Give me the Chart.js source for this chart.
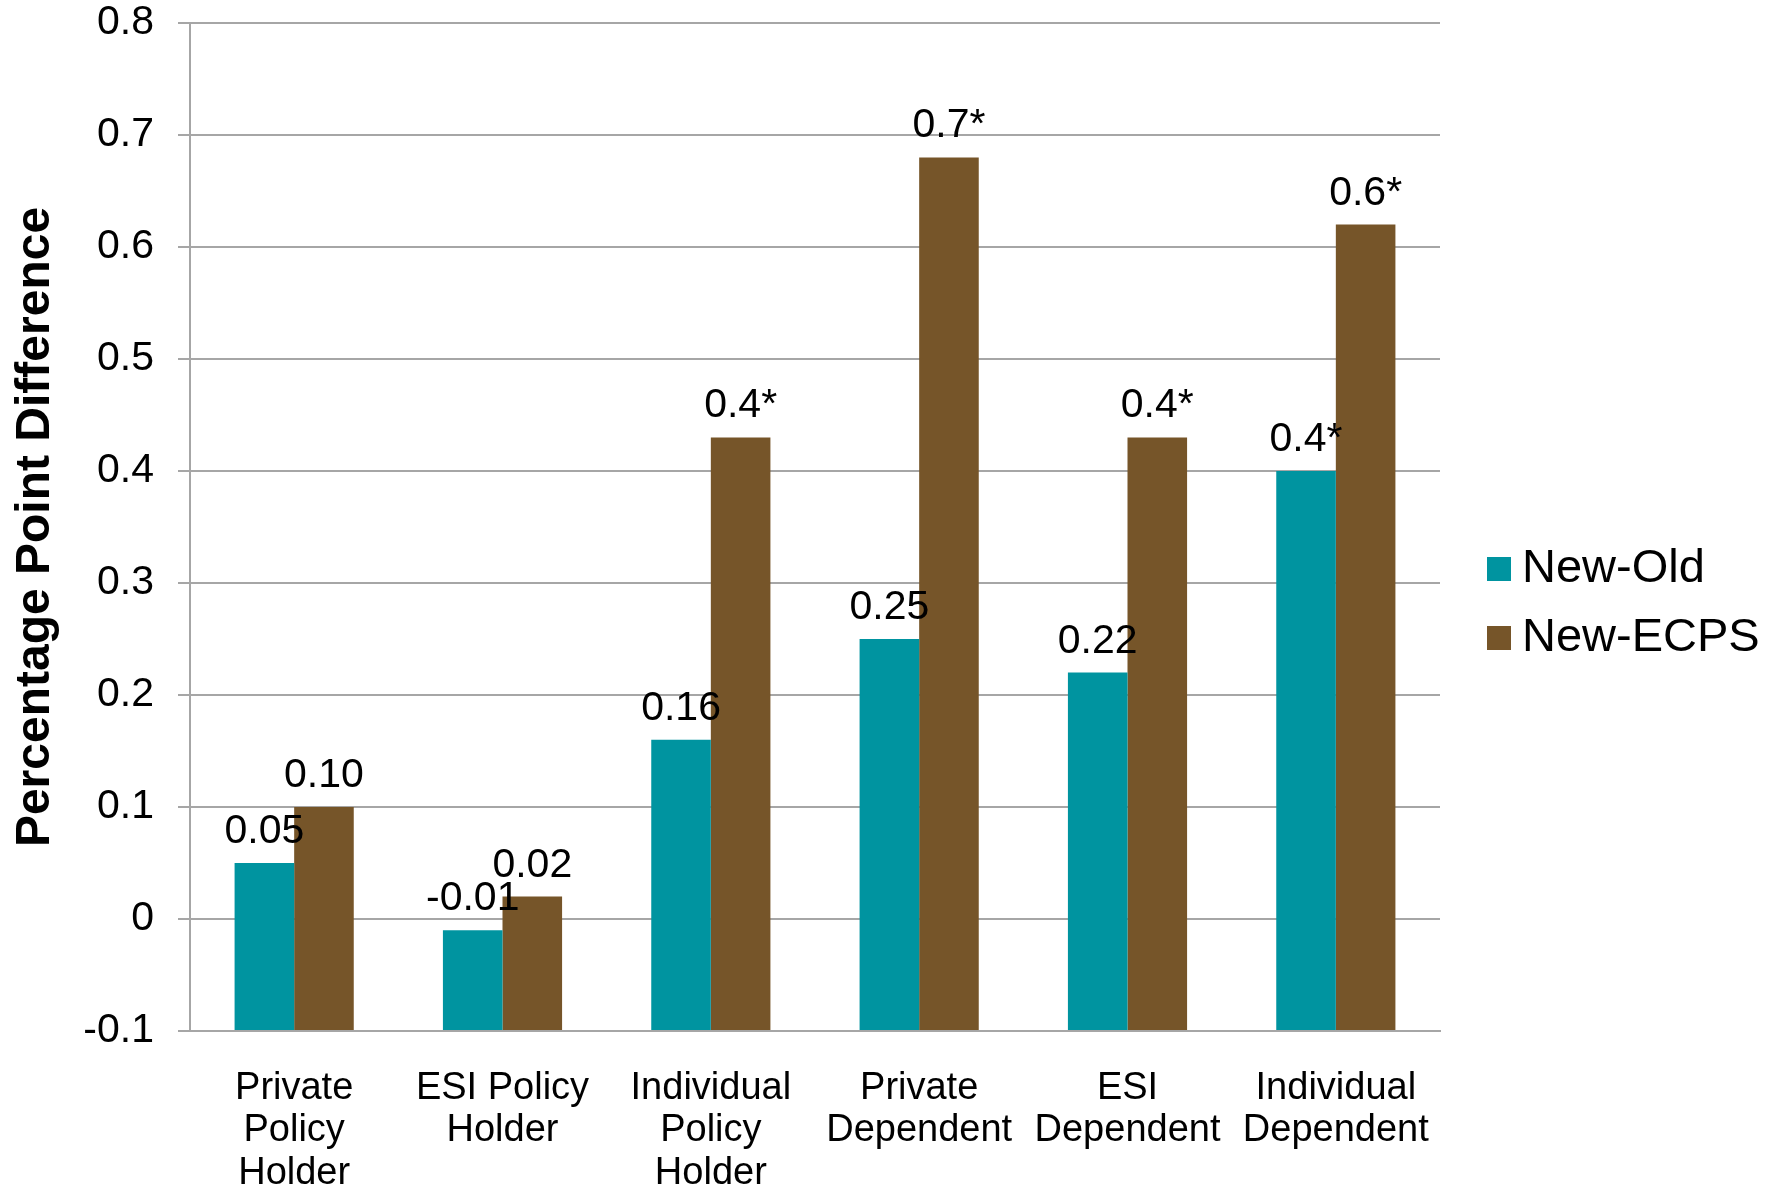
<!DOCTYPE html>
<html>
<head>
<meta charset="utf-8">
<script src="https://cdn.jsdelivr.net/npm/chart.js@4.4.1/dist/chart.umd.min.js"></script>
<style>
  body { margin: 0; background: #fff; }
  #wrap { width: 1783px; height: 1191px; }
</style>
</head>
<body>
<div id="wrap"><canvas id="myChart" width="1783" height="1191"></canvas></div>
<script>
// categories (multi-line labels under the x axis)
var categories = [
    ['Private', 'Policy', 'Holder'],
    ['ESI Policy', 'Holder'],
    ['Individual', 'Policy', 'Holder'],
    ['Private', 'Dependent'],
    ['ESI', 'Dependent'],
    ['Individual', 'Dependent']
];

var newOld = [0.05, -0.01, 0.16, 0.25, 0.22, 0.40];
var newEcps = [0.10, 0.02, 0.43, 0.68, 0.43, 0.62];

// text printed above each bar
var newOldLabels = ['0.05', '-0.01', '0.16', '0.25', '0.22', '0.4*'];
var newEcpsLabels = ['0.10', '0.02', '0.4*', '0.7*', '0.4*', '0.6*'];

var yMin = -0.1;
var yMax = 0.8;
var yStep = 0.1;

var FONT = '"Liberation Sans", Arial, sans-serif';
var gridColor = '#a6a6a6';

// value text over the bars
var barLabels = {
    id: 'barLabels',
    afterDatasetsDraw: function(chart) {
        var ctx = chart.ctx;
        ctx.save();
        ctx.font = '41px ' + FONT;
        ctx.fillStyle = '#000';
        ctx.textAlign = 'center';
        ctx.textBaseline = 'alphabetic';
        chart.data.datasets.forEach(function(ds, i) {
            chart.getDatasetMeta(i).data.forEach(function(bar, j) {
                ctx.fillText(ds.valueLabels[j], bar.x, bar.y - 20);
            });
        });
        ctx.restore();
    }
};

// legend to the right of the plot, square swatch + name
var sideLegend = {
    id: 'sideLegend',
    afterDraw: function(chart) {
        var ctx = chart.ctx;
        var x = chart.chartArea.right + 47;
        var rowH = 69;
        var mid = chart.height / 2 + 8;
        var n = chart.data.datasets.length;
        ctx.save();
        ctx.font = '47px ' + FONT;
        ctx.textAlign = 'left';
        ctx.textBaseline = 'middle';
        chart.data.datasets.forEach(function(ds, i) {
            var cy = mid + (i - (n - 1) / 2) * rowH;
            ctx.fillStyle = ds.backgroundColor;
            ctx.fillRect(x, cy - 12, 24, 24);
            ctx.fillStyle = '#000';
            ctx.fillText(ds.label, x + 35, cy);
        });
        ctx.restore();
    }
};

var ctx = document.getElementById('myChart').getContext('2d');
var chart = new Chart(ctx, {
    type: 'bar',
    data: {
        labels: categories,
        datasets: [{
            label: 'New-Old',
            data: newOld,
            valueLabels: newOldLabels,
            backgroundColor: '#0094a0',
            base: yMin
        }, {
            label: 'New-ECPS',
            data: newEcps,
            valueLabels: newEcpsLabels,
            backgroundColor: '#765529',
            base: yMin
        }]
    },
    options: {
        responsive: false,
        animation: false,
        events: [],
        layout: {
            padding: { top: 0, right: 343, bottom: 0, left: 0 }
        },
        datasets: {
            bar: {
                categoryPercentage: 0.572,
                barPercentage: 1
            }
        },
        plugins: {
            tooltip: { enabled: false },
            legend: { display: false }
        },
        scales: {
            x: {
                grid: { display: false },
                border: { display: true, color: gridColor, width: 2 },
                ticks: {
                    color: '#000',
                    padding: 28,
                    maxRotation: 0,
                    autoSkip: false,
                    font: { family: FONT, size: 38, lineHeight: 1.12 }
                },
                afterFit: function(scale) { scale.height = 160; }
            },
            y: {
                min: yMin,
                max: yMax,
                ticks: {
                    stepSize: yStep,
                    color: '#000',
                    padding: 24,
                    font: { family: FONT, size: 41, lineHeight: 1.122 }
                },
                grid: {
                    color: gridColor,
                    lineWidth: 2,
                    drawTicks: true,
                    tickLength: 12
                },
                border: { display: true, color: gridColor, width: 2 },
                title: {
                    display: true,
                    text: 'Percentage Point Difference',
                    color: '#000',
                    padding: { top: 7, bottom: 0 },
                    font: { family: FONT, size: 48, weight: 'bold' }
                },
                afterFit: function(scale) {
                    scale.width = 190;
                    // only half a label above the 0.8 line
                    scale.paddingTop = 23;
                }
            }
        }
    },
    plugins: [barLabels, sideLegend]
});
</script>
</body>
</html>
